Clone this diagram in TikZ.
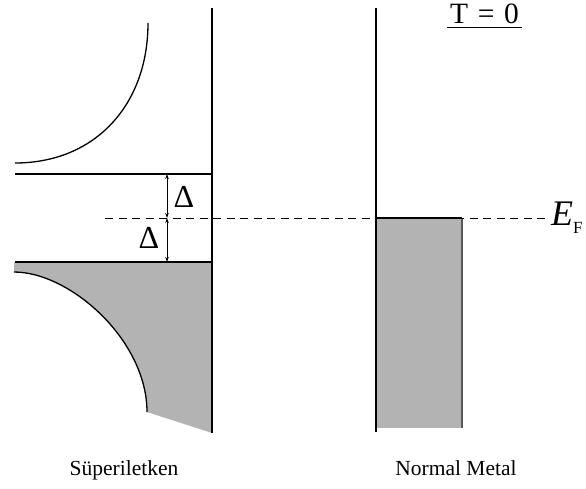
\documentclass[tikz,border=0pt]{standalone}
\usepackage{fontspec}
\setmainfont{Liberation Serif}
\usetikzlibrary{arrows.meta}
\definecolor{bandgray}{RGB}{179,179,179}
\definecolor{edgegray}{RGB}{90,90,90}
\tikzset{
  axisline/.style={line width=1.3pt, black},
  bandline/.style={line width=1.2pt, black},
  dosline/.style={line width=1.3pt, black},
  gaparrow/.style={line width=0.7pt, {Stealth[length=5pt,width=3.5pt]}-{Stealth[length=5pt,width=3.5pt]}},
  fermiline/.style={line width=0.9pt, dash pattern=on 8pt off 5.5pt},
  lbl/.style={inner sep=0pt, font=\fontsize{21.5}{21.5}\selectfont, anchor=base},
  gaplbl/.style={inner sep=0pt, font=\fontsize{32}{32}\selectfont},
}
\begin{document}
\begin{tikzpicture}[x=1pt,y=-1pt]
\useasboundingbox (0,0) rectangle (586,488);
% filled lower band (superconductor)
\fill[bandgray] (14,262) -- (212,262) -- (212,433) -- (147,412)
  .. controls (147,340) and (70,272) .. (14,272) -- cycle;
\draw[dosline] (147,412) .. controls (147,340) and (70,272) .. (14,272);
% upper density of states curve
\draw[dosline] (148,23) .. controls (148,105) and (95,163) .. (15,163);
% gap edges
\draw[bandline] (15,174) -- (212,174);
\draw[bandline] (15,262) -- (212,262);
% superconductor axis
\draw[axisline] (212,8) -- (212,433);
% normal metal
\fill[bandgray] (377,218) rectangle (462,428);
\draw[line width=1.1pt, edgegray] (462,218) -- (462,428);
\draw[bandline] (376,218) -- (462,218);
\draw[axisline] (376,8) -- (376,432);
% Fermi level
\coordinate (fl) at (105,218);
\coordinate (fr) at (545,218);
\draw[fermiline] (fl) -- (fr);
\node[inner sep=0pt, anchor=base west] (ef) at (551,225)
  {\fontsize{36}{36}\selectfont\itshape E\/\raisebox{-8pt}{\upshape\fontsize{17}{17}\selectfont F}};
% gap arrows
\coordinate (gt) at (167,174);
\coordinate (gm) at (167,218);
\coordinate (gb) at (167,262);
\draw[gaparrow] (gt) -- (gm);
\draw[gaparrow] (gm) -- (gb);
\node[gaplbl] (d1) at (184,197) {Δ};
\node[gaplbl] (d2) at (149,238) {Δ};
% T = 0
\node[inner sep=0pt, anchor=base, font=\fontsize{29.5}{29.5}\selectfont] (temp) at (484.5,23.5) {T\hspace{0.33em}=\hspace{0.33em}0};
\draw[line width=1pt] (447,27.5) -- (522,27.5);
% labels
\node[lbl] (sc) at (124,475) {Süperiletken};
\node[lbl] (nm) at (456,475) {Normal Metal};
\end{tikzpicture}
\end{document}
